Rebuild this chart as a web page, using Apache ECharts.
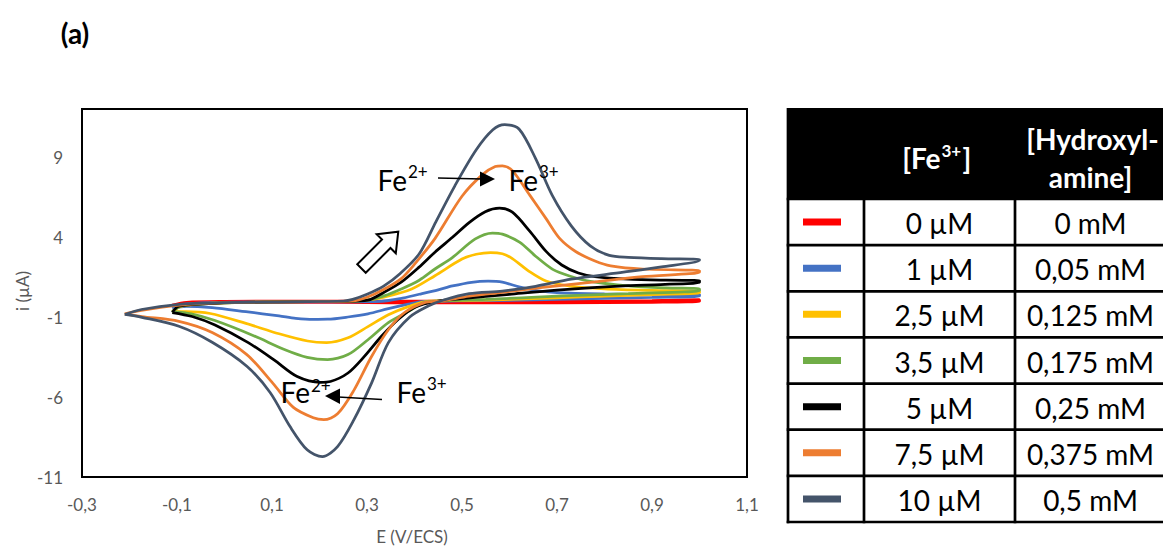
<!DOCTYPE html>
<html><head><meta charset="utf-8">
<script src="https://cdn.jsdelivr.net/npm/echarts@6/dist/echarts.min.js"></script>
<style>html,body{margin:0;padding:0;background:#fff}#c{width:1163px;height:546px}</style>
</head><body><div id="c"></div>
<script>
// ---- data ----
const seriesNames = ['0 µM', '1 µM', '2,5 µM', '3,5 µM', '5 µM', '7,5 µM', '10 µM'];
const feConc = ['0 µM', '1 µM', '2,5 µM', '3,5 µM', '5 µM', '7,5 µM', '10 µM'];
const hydroxConc = ['0 mM', '0,05 mM', '0,125 mM', '0,175 mM', '0,25 mM', '0,375 mM', '0,5 mM'];
const seriesColors = ['#FF0000', '#4472C4', '#FFC000', '#70AD47', '#000000', '#ED7D31', '#44546A'];
const xTickValues = [-0.3, -0.1, 0.1, 0.3, 0.5, 0.7, 0.9, 1.1];
const xTickLabels = ['-0,3', '-0,1', '0,1', '0,3', '0,5', '0,7', '0,9', '1,1'];
const yTickValues = [-11, -6, -1, 4, 9];
const yTickLabels = ['-11', '-6', '-1', '4', '9'];

// [E (V/ECS), i (µA)] along each voltammogram (forward scan, then return scan)
const cv0 = [[-0.11,-0.25],[-0.08,-0.08],[0.0,-0.02],[0.15,0.0],[0.3,0.0],[0.45,0.0],[0.6,-0.02],[0.8,0.0],[0.9,0.03],[1.0,0.08],
  [1.0,-0.02],[0.9,-0.08],[0.7,-0.12],[0.5,-0.12],[0.4,-0.12],[0.3,-0.1],[0.15,-0.08],[0.0,-0.1],[-0.08,-0.15],[-0.11,-0.25]];
const cv1 = [[-0.11,-0.45],[-0.09,-0.22],[-0.03,-0.1],[0.1,-0.05],[0.25,-0.05],[0.33,-0.02],[0.37,0.15],[0.41,0.42],[0.45,0.7],[0.48,0.94],[0.52,1.17],[0.555,1.24],[0.585,1.18],[0.62,0.88],[0.66,0.64],[0.7,0.52],[0.8,0.44],[0.9,0.41],[1.0,0.4],
  [1.0,0.3],[0.9,0.22],[0.8,0.16],[0.7,0.1],[0.6,0.04],[0.5,0.0],[0.42,-0.02],[0.387,-0.2],[0.345,-0.48],[0.302,-0.8],[0.26,-1.0],[0.217,-1.14],[0.187,-1.15],[0.15,-1.08],[0.115,-0.93],[0.045,-0.67],[-0.026,-0.42],[-0.08,-0.33],[-0.11,-0.45]];
const cv25 = [[-0.11,-0.66],[-0.09,-0.32],[-0.03,-0.15],[0.1,-0.06],[0.25,-0.02],[0.3,0.05],[0.336,0.24],[0.394,0.75],[0.443,1.58],[0.5,2.62],[0.53,2.92],[0.56,3.03],[0.585,2.95],[0.606,2.65],[0.643,1.82],[0.677,1.25],[0.728,0.93],[0.8,0.76],[0.9,0.66],[1.0,0.6],
  [1.0,0.5],[0.9,0.4],[0.8,0.3],[0.7,0.2],[0.6,0.1],[0.5,0.03],[0.43,0.0],[0.387,-0.35],[0.345,-0.86],[0.302,-1.6],[0.26,-2.3],[0.215,-2.6],[0.175,-2.5],[0.115,-2.05],[0.045,-1.4],[-0.03,-0.78],[-0.08,-0.66],[-0.11,-0.66]];
const cv35 = [[-0.11,-0.66],[-0.09,-0.3],[-0.03,-0.15],[0.1,-0.06],[0.25,-0.02],[0.3,0.05],[0.336,0.32],[0.372,0.75],[0.41,1.3],[0.443,2.0],[0.479,2.7],[0.528,3.88],[0.564,4.25],[0.585,4.18],[0.621,3.68],[0.655,2.8],[0.691,1.98],[0.728,1.55],[0.77,1.23],[0.85,0.95],[0.93,0.82],[1.0,0.76],
  [1.0,0.64],[0.85,0.46],[0.7,0.3],[0.55,0.1],[0.45,0.0],[0.421,-0.08],[0.387,-0.65],[0.345,-1.35],[0.302,-2.42],[0.26,-3.35],[0.217,-3.66],[0.174,-3.52],[0.13,-3.08],[0.06,-2.15],[-0.02,-1.22],[-0.07,-0.8],[-0.11,-0.66]];
const cv5 = [[-0.11,-0.72],[-0.096,-0.33],[-0.02,-0.15],[0.1,-0.06],[0.25,-0.02],[0.302,0.05],[0.336,0.55],[0.372,1.18],[0.409,2.1],[0.443,3.05],[0.48,3.98],[0.515,4.9],[0.549,5.58],[0.579,5.8],[0.606,5.55],[0.643,4.35],[0.677,3.1],[0.71,2.25],[0.745,1.75],[0.78,1.52],[0.85,1.36],[0.93,1.3],[1.0,1.28],
  [1.0,1.15],[0.85,0.96],[0.7,0.68],[0.6,0.42],[0.5,0.15],[0.45,0.0],[0.4,-0.4],[0.366,-1.14],[0.33,-2.22],[0.294,-3.48],[0.26,-4.5],[0.223,-5.03],[0.202,-5.08],[0.153,-4.72],[0.105,-3.7],[0.05,-2.6],[-0.02,-1.5],[-0.068,-0.97],[-0.11,-0.72]];
const cv75 = [[-0.21,-0.8],[-0.175,-0.58],[-0.1,-0.27],[0.0,-0.1],[0.15,-0.05],[0.27,0.0],[0.3,0.23],[0.336,0.73],[0.372,1.4],[0.4,2.3],[0.443,3.9],[0.5,6.55],[0.543,7.9],[0.57,8.4],[0.585,8.45],[0.606,8.15],[0.643,6.6],[0.677,5.15],[0.706,3.9],[0.74,3.08],[0.78,2.5],[0.813,2.2],[0.88,2.0],[1.0,1.9],
  [1.0,1.8],[0.88,1.52],[0.78,1.2],[0.67,0.85],[0.585,0.54],[0.515,0.3],[0.457,0.0],[0.421,-0.1],[0.379,-0.72],[0.345,-1.8],[0.309,-3.5],[0.272,-5.6],[0.238,-7.05],[0.209,-7.42],[0.187,-7.3],[0.145,-6.65],[0.102,-5.15],[0.047,-3.35],[-0.026,-1.97],[-0.096,-1.27],[-0.174,-0.97],[-0.21,-0.8]];
const cv10 = [[-0.21,-0.84],[-0.175,-0.53],[-0.1,-0.22],[0.0,-0.1],[0.15,-0.05],[0.25,0.0],[0.27,0.1],[0.3,0.42],[0.335,0.93],[0.37,1.72],[0.41,2.95],[0.445,4.95],[0.485,7.2],[0.53,9.45],[0.565,10.7],[0.59,11.02],[0.62,10.75],[0.655,8.9],[0.69,6.6],[0.73,4.7],[0.77,3.45],[0.81,2.85],[0.85,2.73],[0.92,2.65],[1.0,2.6],
  [1.0,2.55],[0.92,2.13],[0.84,1.8],[0.73,1.37],[0.655,0.92],[0.585,0.62],[0.515,0.46],[0.46,0.05],[0.43,-0.3],[0.39,-1.0],[0.345,-2.6],[0.31,-5.1],[0.272,-7.45],[0.238,-9.1],[0.206,-9.72],[0.174,-9.3],[0.138,-7.85],[0.096,-5.72],[0.047,-4.08],[-0.026,-2.58],[-0.096,-1.58],[-0.174,-1.02],[-0.21,-0.84]];
const curves = [cv0, cv1, cv25, cv35, cv5, cv75, cv10];

// ---- chart ----
const FONT = 'Lato, "Open Sans", sans-serif';
const chart = echarts.init(document.getElementById('c'), null, {renderer: 'svg'});

const series = curves.map((d, k) => ({
  name: seriesNames[k], type: 'line', data: d, showSymbol: false, symbol: 'none',
  smooth: 0.3, silent: true, lineStyle: {width: 2.75, color: seriesColors[k]},
  itemStyle: {color: seriesColors[k]}, z: 2 + k
}));

const graphics = [];
const T = (text, x, y, o) => graphics.push(Object.assign({type: 'text', x, y, z: 100,
  style: Object.assign({text, fontFamily: FONT, fontSize: 28, fill: '#000', align: 'left', verticalAlign: 'middle'}, o || {})}));

// panel label and axis titles
T('(a)', 75, 33, {fontWeight: 'bold', fontSize: 28, align: 'center'});
T('E (V/ECS)', 412, 536, {fontSize: 17, fill: '#595959', align: 'center'});
graphics.push({type: 'text', x: 22, y: 291, rotation: Math.PI / 2, z: 100,
  style: {text: 'i (µA)', fontFamily: FONT, fontSize: 17, fill: '#595959', align: 'center', verticalAlign: 'middle'}});

// annotations
T('Fe', 407, 180, {align: 'right'});
T('2+', 408, 171, {fontSize: 17});
T('Fe', 538, 180, {align: 'right'});
T('3+', 539, 171, {fontSize: 17});
graphics.push({type: 'line', z: 100, shape: {x1: 438, y1: 178, x2: 482, y2: 179}, style: {stroke: '#000', lineWidth: 1.3}});
graphics.push({type: 'polygon', z: 100, shape: {points: [[495, 179], [480, 171.5], [480, 186.5]]}, style: {fill: '#000'}});

T('Fe', 310, 392, {align: 'right'});
T('2+', 311, 385, {fontSize: 17});
T('Fe', 426, 392, {align: 'right'});
T('3+', 427, 383, {fontSize: 17});
graphics.push({type: 'line', z: 100, shape: {x1: 382, y1: 399.5, x2: 338, y2: 397}, style: {stroke: '#000', lineWidth: 1.3}});
graphics.push({type: 'polygon', z: 100, shape: {points: [[325, 396], [340, 388.5], [340, 404]]}, style: {fill: '#000'}});

// hollow scan-direction arrow
(function () {
  const tx = 361.5, ty = 268.5, d = [Math.SQRT1_2, -Math.SQRT1_2], p = [Math.SQRT1_2, Math.SQRT1_2];
  const L = 52, hb = 35, hw = 13.5, sw = 6;
  const pt = (a, b) => [tx + a * d[0] + b * p[0], ty + a * d[1] + b * p[1]];
  graphics.push({type: 'polygon', z: 100,
    shape: {points: [pt(0, sw), pt(hb, sw), pt(hb, hw), pt(L, 0), pt(hb, -hw), pt(hb, -sw), pt(0, -sw)]},
    style: {fill: '#fff', stroke: '#000', lineWidth: 2}});
})();

// legend table
const TL = 788, TR = 1172, C1 = 864, C2 = 1015, HT = 108, HB = 199, TB = 522;
const rowH = (TB - HB) / feConc.length;
graphics.push({type: 'rect', z: 90, shape: {x: TL, y: HT, width: TR - TL, height: HB - HT}, style: {fill: '#000'}});
for (let k = 0; k <= feConc.length; k++) {
  const y = HB + k * rowH;
  graphics.push({type: 'line', z: 91, shape: {x1: TL - 1.3, y1: y, x2: TR, y2: y}, style: {stroke: '#000', lineWidth: 2.7}});
}
[TL, C1, C2].forEach(x => graphics.push({type: 'line', z: 91, shape: {x1: x, y1: HT, x2: x, y2: TB + 1.3}, style: {stroke: '#000', lineWidth: 2.7}}));
const colMid1 = (C1 + C2) / 2, colMid2 = (C2 + 1166) / 2;
T('[Fe', colMid1 + 1, 158, {fill: '#fff', fontWeight: 'bold', align: 'right'});
T('3+', colMid1 + 2, 150, {fill: '#fff', fontWeight: 'bold', fontSize: 17});
T(']', colMid1 + 23, 158, {fill: '#fff', fontWeight: 'bold'});
T('[Hydroxyl-', colMid2 + 2, 139, {fill: '#fff', fontWeight: 'bold', align: 'center'});
T('amine]', colMid2, 177, {fill: '#fff', fontWeight: 'bold', align: 'center'});
feConc.forEach((t, k) => {
  const cy = HB + (k + 0.5) * rowH;
  graphics.push({type: 'rect', z: 92, shape: {x: 803, y: cy - 3.5, width: 38, height: 7}, style: {fill: seriesColors[k]}});
  T(t, colMid1, cy + 1, {align: 'center'});
  T(hydroxConc[k], colMid2, cy + 1, {align: 'center'});
});

const labelOf = (vals, labs) => v => { const i = vals.findIndex(t => Math.abs(t - v) < 1e-6); return i < 0 ? '' : labs[i]; };

chart.setOption({
  animation: false,
  backgroundColor: '#fff',
  grid: {left: 82, top: 109, width: 665, height: 368, show: true, borderColor: '#000', borderWidth: 2,
    containLabel: false, outerBoundsMode: 'none'},
  xAxis: {type: 'value', min: -0.3, max: 1.1, interval: 0.1,
    axisLine: {show: false}, axisTick: {show: false}, splitLine: {show: false},
    axisLabel: {formatter: labelOf(xTickValues, xTickLabels), color: '#595959', fontSize: 17, fontFamily: FONT, margin: 19}},
  yAxis: {type: 'value', min: -11, max: 12, interval: 1,
    axisLine: {show: false}, axisTick: {show: false}, splitLine: {show: false},
    axisLabel: {formatter: labelOf(yTickValues, yTickLabels), color: '#595959', fontSize: 17, fontFamily: FONT, margin: 19}},
  series,
  graphic: graphics
});
</script></body></html>
